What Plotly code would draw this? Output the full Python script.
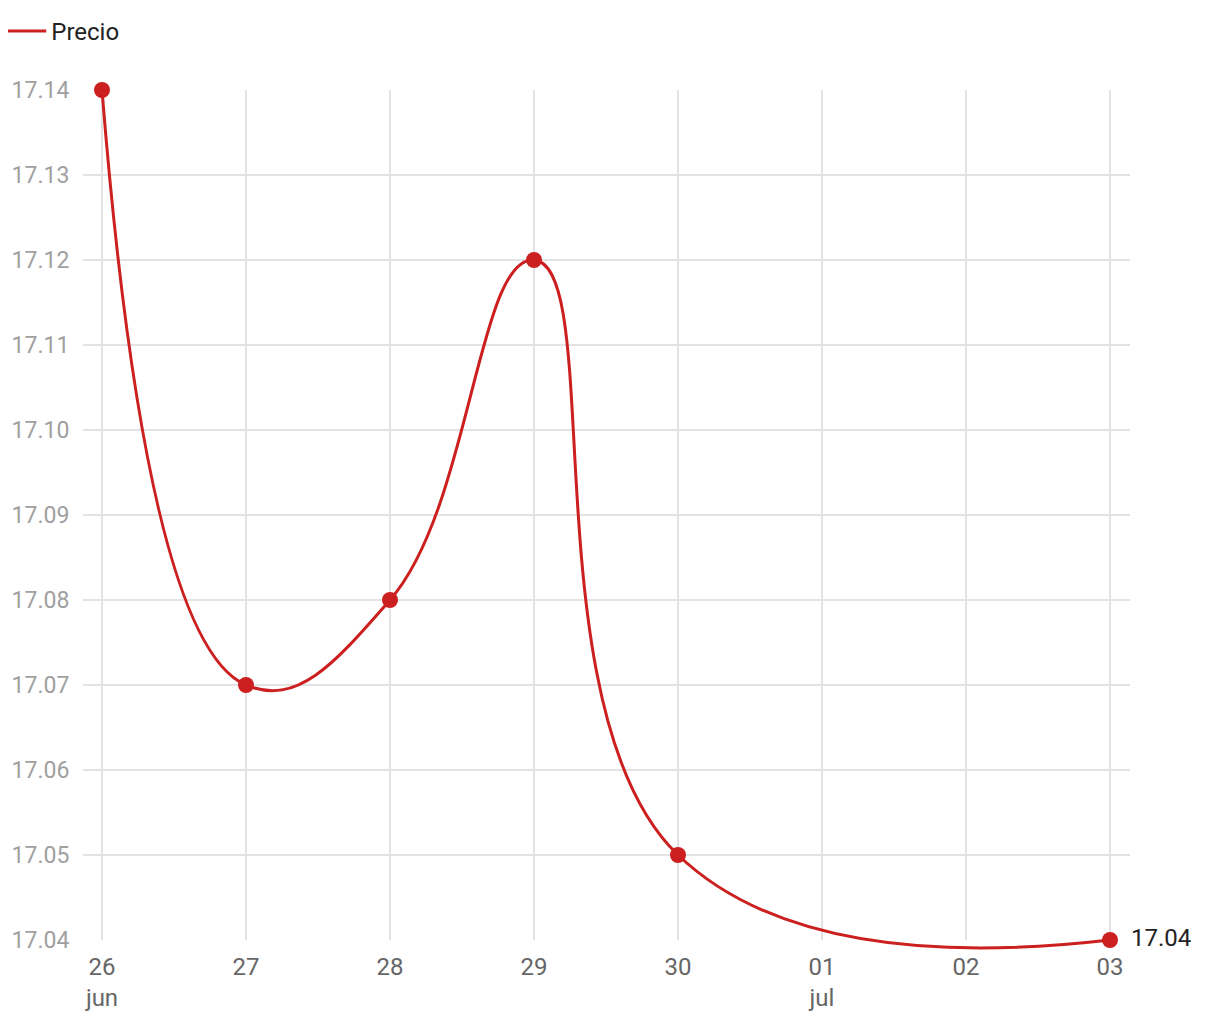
import plotly.graph_objects as go

fechas = ["2025-06-26", "2025-06-27", "2025-06-28", "2025-06-29", "2025-06-30", "2025-07-03"]
precio = [17.14, 17.07, 17.08, 17.12, 17.05, 17.04]

x_tickvals = ["2025-06-26", "2025-06-27", "2025-06-28", "2025-06-29", "2025-06-30",
              "2025-07-01", "2025-07-02", "2025-07-03"]
x_ticktext = ["26<br>jun", "27", "28", "29", "30", "01<br>jul", "02", "03"]
y_tickvals = [17.04, 17.05, 17.06, 17.07, 17.08, 17.09, 17.10, 17.11, 17.12, 17.13, 17.14]

RED = "#cc1f1f"
x_range = ["2025-06-25 20:50", "2025-07-03 03:20"]

fig = go.Figure()
# legend entry (line only) on the primary axes, which carry grid and ticks
fig.add_trace(go.Scatter(
    x=[None], y=[None], mode="lines", name="Precio",
    line=dict(color=RED, width=3), xaxis="x", yaxis="y", hoverinfo="skip",
))
fig.add_trace(go.Scatter(
    x=fechas, y=precio, mode="lines+markers", name="Precio", showlegend=False,
    line=dict(color=RED, width=3, shape="spline", smoothing=1.3),
    marker=dict(size=16, color=RED),
    xaxis="x2", yaxis="y2", cliponaxis=False,
))
fig.add_trace(go.Scatter(
    x=[fechas[-1]], y=[precio[-1]], mode="markers+text",
    marker=dict(size=32, color="rgba(0,0,0,0)"),
    text=[f"{precio[-1]:.2f}"], textposition="middle right",
    textfont=dict(size=24, color="#222222"),
    xaxis="x2", yaxis="y2", cliponaxis=False, showlegend=False, hoverinfo="skip",
))

plot_px = 900.0
y1_px = 850.0
ylo = 17.14 - (17.14 - 17.04) * plot_px / y1_px

fig.update_layout(
    width=1220, height=1020,
    margin=dict(l=75, r=98, t=82, b=38, autoexpand=False),
    paper_bgcolor="white", plot_bgcolor="rgba(0,0,0,0)",
    font=dict(family="Roboto", size=24, color="#666666"),
    showlegend=True,
    legend=dict(x=-0.080, xanchor="left", y=1.090, yanchor="top",
                font=dict(size=24, color="#222222"), bgcolor="rgba(0,0,0,0)",
                itemwidth=42),
    xaxis=dict(type="date", range=x_range, tickvals=x_tickvals, ticktext=x_ticktext,
               autorange=False, automargin=False,
               showgrid=True, gridcolor="#e3e3e3", gridwidth=1.5, zeroline=False,
               showline=False, ticks="outside", ticklen=5, tickcolor="rgba(0,0,0,0)",
               tickfont=dict(size=24, color="#666666"), anchor="y"),
    yaxis=dict(domain=[1 - y1_px / plot_px, 1], range=[17.04, 17.14], autorange=False,
               automargin=False, tickvals=y_tickvals,
               tickformat=".2f", showgrid=True, gridcolor="#e3e3e3", gridwidth=1.5,
               zeroline=False, showline=False, ticks="outside", ticklen=8,
               tickcolor="rgba(0,0,0,0)", tickfont=dict(size=23, color="#a0a0a0"),
               anchor="x"),
    xaxis2=dict(type="date", range=x_range, autorange=False, visible=False, anchor="y2",
                automargin=False),
    yaxis2=dict(domain=[0, 1], range=[ylo, 17.14], autorange=False, visible=False,
                anchor="x2", automargin=False),
)

fig.write_html("out.html")
